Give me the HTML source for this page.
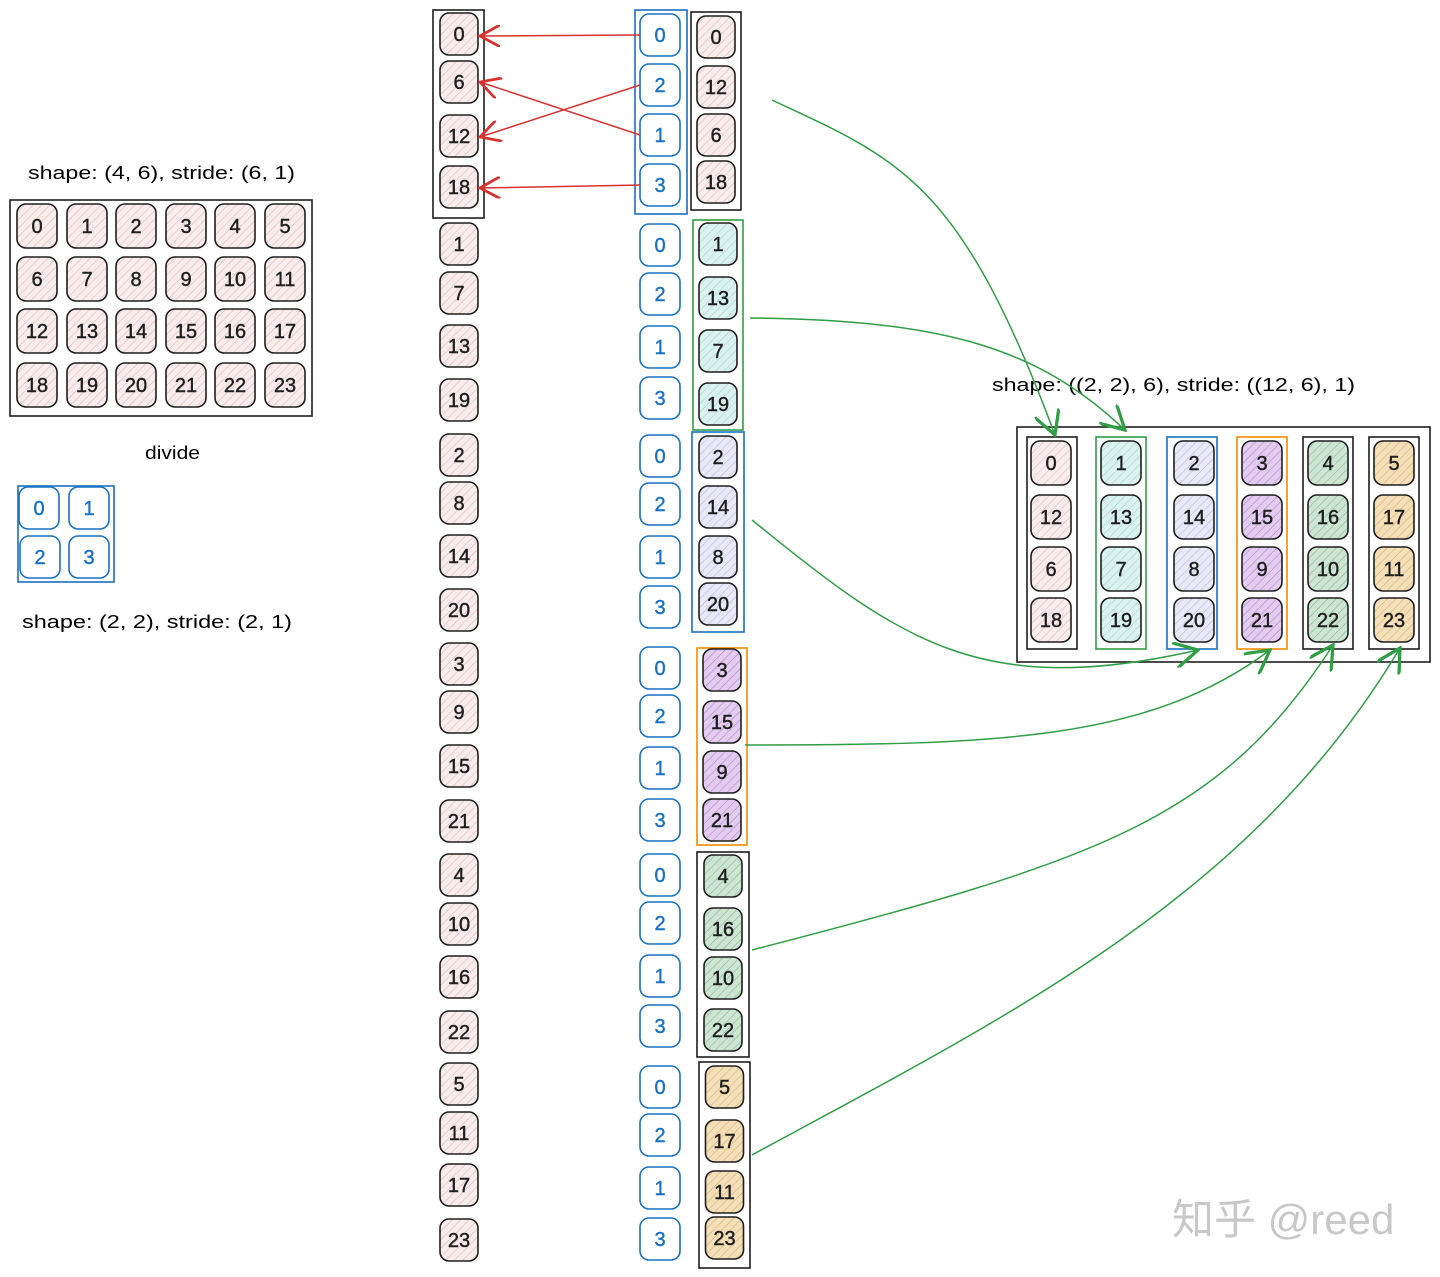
<!DOCTYPE html>
<html><head><meta charset="utf-8"><style>
html,body{margin:0;padding:0;background:#fff;}
svg{display:block;}
text{font-family:"Liberation Sans","Noto Sans CJK SC",sans-serif;}
</style></head><body>
<svg id="s" width="1440" height="1277" viewBox="0 0 1440 1277" xmlns="http://www.w3.org/2000/svg">
<defs>
<marker id="ar" viewBox="0 0 12 12" refX="11" refY="6" markerWidth="22" markerHeight="22" markerUnits="userSpaceOnUse" orient="auto"><path d="M0,0 L11,6 L0,12" fill="none" stroke="#d6322f" stroke-width="1.5"/></marker>
<marker id="ag" viewBox="0 0 12 12" refX="11" refY="6" markerWidth="26" markerHeight="26" markerUnits="userSpaceOnUse" orient="auto"><path d="M0,0 L11,6 L0,12" fill="none" stroke="#2f9e44" stroke-width="1.5"/></marker>
</defs>
<text x="28" y="179" font-size="18" textLength="267" lengthAdjust="spacingAndGlyphs">shape: (4, 6), stride: (6, 1)</text>
<text x="145" y="459" font-size="18" textLength="55" lengthAdjust="spacingAndGlyphs">divide</text>
<text x="22" y="628" font-size="18" textLength="270" lengthAdjust="spacingAndGlyphs">shape: (2, 2), stride: (2, 1)</text>
<text x="992" y="391" font-size="18" textLength="363" lengthAdjust="spacingAndGlyphs">shape: ((2, 2), 6), stride: ((12, 6), 1)</text>
<text x="1172" y="1234" font-size="42" fill="#c8c8c8">知乎 @reed</text>
</svg>
<script>
const svg=document.getElementById('s');
const NS='http://www.w3.org/2000/svg';
const fills={pink:'#f7eded',cyan:'#dcf2ef',lav:'#e9e8f6',purple:'#e3cdee',green:'#cfe5d4',orange:'#f3dfb9',white:'#ffffff'};
const hatch={pink:'#e8b4b4',cyan:'#9fd6cf',lav:'#b9b6de',purple:'#b07fcc',green:'#7dba8c',orange:'#d9b26d'};
const defs=svg.querySelector('defs');
for(const k in hatch){
  const p=document.createElementNS(NS,'pattern');
  p.setAttribute('id','h_'+k);p.setAttribute('width','6');p.setAttribute('height','6');
  p.setAttribute('patternUnits','userSpaceOnUse');p.setAttribute('patternTransform','rotate(45)');
  p.innerHTML='<rect width="6" height="6" fill="'+fills[k]+'"/><line x1="0" y1="0" x2="0" y2="6" stroke="'+hatch[k]+'" stroke-width="1.2"/>';
  defs.appendChild(p);
}
function el(tag,attrs){const e=document.createElementNS(NS,tag);for(const a in attrs)e.setAttribute(a,attrs[a]);svg.appendChild(e);return e;}
function cell(cx,cy,label,kind,w,h){
  w=w||40;h=h||42;
  const blue=kind==='blue';
  const r=el('rect',{x:cx-w/2,y:cy-h/2,width:w,height:h,rx:9,fill:blue?'#fff':'url(#h_'+kind+')',stroke:blue?'#1971c2':'#1e1e1e','stroke-width':1.6});
  
  
  const t=el('text',{x:cx,y:cy+7,'font-size':20,'text-anchor':'middle',fill:blue?'#1971c2':'#1e1e1e','stroke':blue?'#1971c2':'#1e1e1e','stroke-width':0.4});
  t.textContent=label;
  
  
}
function frame(x,y,w,h,color,name){
  const r=el('rect',{x:x,y:y,width:w,height:h,fill:'none',stroke:color,'stroke-width':1.6});
  
  
}
const gridXs=[37,87,136,186,235,285];
const gridYs=[226,279,331,385];
frame(10,200,302,216,'#1e1e1e','source-grid-frame');
for(let r=0;r<4;r++)for(let c=0;c<6;c++)cell(gridXs[c],gridYs[r],String(r*6+c),'pink',40,44);
frame(18,486,96,96,'#1971c2','tile-frame');
const tileCells=[[39,508,'0'],[89,508,'1'],[40,557,'2'],[89,557,'3']];
tileCells.forEach(t=>cell(t[0],t[1],t[2],'blue',40,42));
const colAValues=[0,6,12,18,1,7,13,19,2,8,14,20,3,9,15,21,4,10,16,22,5,11,17,23];
const colAYs=[34,82,136,187,244,293,346,400,455,503,556,610,664,712,766,821,875,924,977,1032,1084,1133,1185,1240];
frame(433,10,51,208,'#1e1e1e','column-a-first-frame');
colAValues.forEach((v,i)=>cell(459,colAYs[i],String(v),'pink',38,42));
const colBValues=[0,2,1,3];
const groupYs=[[35,85,135,185],[245,294,347,398],[456,504,557,607],[668,716,768,820],[875,923,976,1026],[1087,1135,1188,1239]];
frame(635,10,52,204,'#1971c2','index-frame');
groupYs.forEach(g=>g.forEach((y,i)=>cell(660,y,String(colBValues[i]),'blue',40,42)));
const colCGroups=[[0,12,6,18],[1,13,7,19],[2,14,8,20],[3,15,9,21],[4,16,10,22],[5,17,11,23]];
const colCYs=[[37,87,135,182],[244,298,351,404],[457,507,557,604],[670,722,772,820],[876,929,978,1030],[1087,1141,1192,1238]];
const colCKinds=['pink','cyan','lav','purple','green','orange'];
const colCFrames=[[691,12,50,198,'#1e1e1e'],[693,220,50,210,'#2f9e44'],[692,432,52,200,'#1971c2'],[697,648,50,197,'#f08c00'],[697,852,52,205,'#1e1e1e'],[699,1062,51,206,'#1e1e1e']];
colCFrames.forEach((f,i)=>frame(f[0],f[1],f[2],f[3],f[4],'column-c-frame-'+i));
colCGroups.forEach((g,gi)=>g.forEach((v,i)=>cell(colCFrames[gi][0]+colCFrames[gi][2]/2,colCYs[gi][i],String(v),colCKinds[gi],38,42)));
frame(1017,427,413,235,'#1e1e1e','result-frame');
const resXs=[1051,1121,1194,1262,1328,1394];
const resYs=[463,517,569,620];
const resFrames=[[1027,'#1e1e1e'],[1096,'#2f9e44'],[1167,'#1971c2'],[1237,'#f08c00'],[1303,'#1e1e1e'],[1369,'#1e1e1e']];
resFrames.forEach((f,i)=>frame(f[0],437,50,212,f[1],'result-column-frame-'+i));
colCGroups.forEach((g,c)=>g.forEach((v,r)=>cell(resXs[c],resYs[r],String(v),colCKinds[c],40,44)));
const redArrows=[[640,35,480,36],[640,135,480,82],[640,85,480,137],[640,185,480,188]];
redArrows.forEach((a,i)=>{const l=el('line',{x1:a[0],y1:a[1],x2:a[2],y2:a[3],stroke:'#d6322f','stroke-width':1.5,'marker-end':'url(#ar)'});

});
const greenPaths=['M772,100 C900,160 960,180 1055,435','M750,318 C950,320 1040,350 1125,430','M752,520 C900,640 980,700 1198,650','M745,745 C1000,745 1150,740 1270,650','M752,950 C1100,860 1220,820 1333,645','M752,1155 C1000,1020 1250,900 1400,648'];
greenPaths.forEach((d,i)=>{const p=el('path',{d:d,fill:'none',stroke:'#2f9e44','stroke-width':1.5,'marker-end':'url(#ag)'});

});
</script>
</body></html>
